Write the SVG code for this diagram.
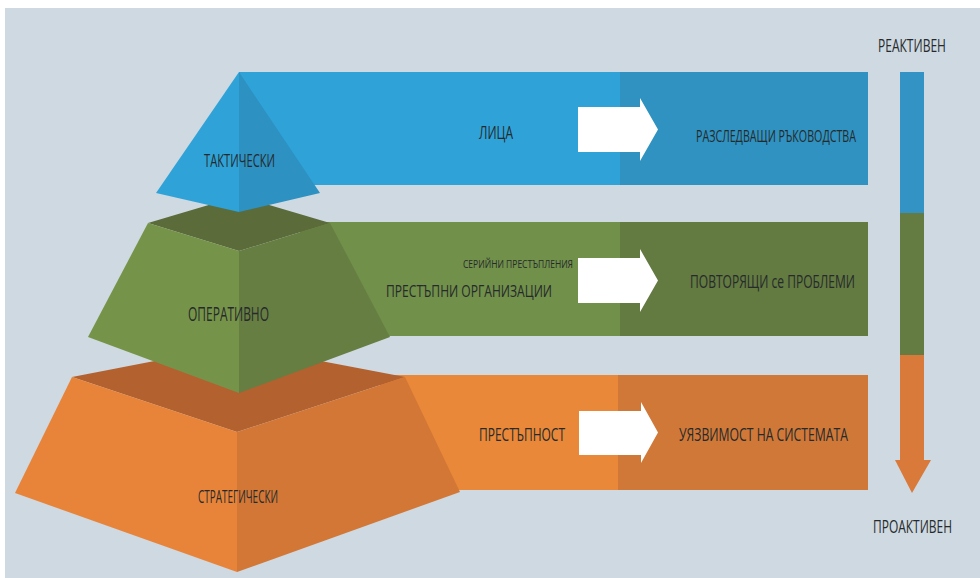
<svg xmlns="http://www.w3.org/2000/svg" width="980" height="578" viewBox="0 0 980 578">
<style>
.t{font-family:"Open Sans","Liberation Sans",sans-serif;fill:#262a2c;}
.arrow{fill:#ffffff;}
</style>
<rect x="0" y="0" width="980" height="578" fill="#ffffff"/>
<rect x="5" y="8" width="975" height="570" fill="#cfd9e1"/>

<g id="band-blue">
<rect x="239" y="72" width="381" height="113" fill="#2fa3d8"/>
<rect x="620" y="72" width="248" height="113" fill="#2f92c0"/>
<polygon class="arrow" points="578,107 640,107 640,98 658,129.5 640,161 640,152 578,152"/>
<text class="t" x="479" y="139" font-size="19" textLength="34" lengthAdjust="spacingAndGlyphs">ЛИЦА</text>
<text class="t" x="696" y="142" font-size="16" textLength="160" lengthAdjust="spacingAndGlyphs">РАЗСЛЕДВАЩИ РЪКОВОДСТВА</text>
</g>

<g id="band-green">
<rect x="300" y="222" width="320" height="114" fill="#71904a"/>
<rect x="620" y="222" width="248" height="114" fill="#637a41"/>
<polygon class="arrow" points="578,258 640,258 640,249 658,280.5 640,312 640,303 578,303"/>
<text class="t" x="463" y="268" font-size="11" textLength="110" lengthAdjust="spacingAndGlyphs">СЕРИЙНИ ПРЕСТЪПЛЕНИЯ</text>
<text class="t" x="386" y="297" font-size="16" textLength="166" lengthAdjust="spacingAndGlyphs">ПРЕСТЪПНИ ОРГАНИЗАЦИИ</text>
<text class="t" x="690" y="288" font-size="18" textLength="165" lengthAdjust="spacingAndGlyphs">ПОВТОРЯЩИ се ПРОБЛЕМИ</text>
</g>

<g id="band-orange">
<rect x="380" y="375" width="238" height="115" fill="#e98838"/>
<rect x="618" y="375" width="250" height="115" fill="#d07838"/>
<polygon class="arrow" points="579,411 641,411 641,402 658,432.5 641,463 641,455 579,455"/>
<text class="t" x="479" y="441" font-size="18" textLength="86" lengthAdjust="spacingAndGlyphs">ПРЕСТЪПНОСТ</text>
<text class="t" x="679" y="441" font-size="18" textLength="169" lengthAdjust="spacingAndGlyphs">УЯЗВИМОСТ НА СИСТЕМАТА</text>
</g>

<g id="level-strategic">
<polygon points="72,377 237,345 405,377 237,432" fill="#b3612f"/>
<polygon points="72,377 237,432 237,572 15,493" fill="#e8843a"/>
<polygon points="237,432 405,377 460,492 237,572" fill="#d37736"/>
<text class="t" x="198" y="503" font-size="18" textLength="80" lengthAdjust="spacingAndGlyphs">СТРАТЕГИЧЕСКИ</text>
</g>

<g id="level-operative">
<polygon points="148,223 239,196 330,223 239,251" fill="#5b6b3a"/>
<polygon points="148,223 239,251 239,393 88,337" fill="#769449"/>
<polygon points="239,251 330,223 390,337 239,393" fill="#667e42"/>
<text class="t" x="188" y="321" font-size="20" textLength="81" lengthAdjust="spacingAndGlyphs">ОПЕРАТИВНО</text>
</g>

<g id="level-tactical">
<polygon points="239,72 239,212 156,193" fill="#2fa3d8"/>
<polygon points="239,72 320,193 239,212" fill="#2d91c2"/>
<text class="t" x="204" y="167" font-size="18" textLength="71" lengthAdjust="spacingAndGlyphs">ТАКТИЧЕСКИ</text>
</g>

<g id="scale">
<rect x="900" y="72" width="24" height="141" fill="#3393c4"/>
<rect x="900" y="213" width="24" height="142" fill="#647b42"/>
<rect x="900" y="355" width="24" height="106" fill="#d9793a"/>
<polygon points="895,460 931,460 912,493" fill="#d9793a"/>
<text class="t" transform="scale(0.7,1)" x="1254.3" y="52" font-size="19" textLength="97.1" lengthAdjust="spacingAndGlyphs">РЕАКТИВЕН</text>
<text class="t" transform="scale(0.7,1)" x="1247.1" y="533" font-size="19" textLength="112.9" lengthAdjust="spacingAndGlyphs">ПРОАКТИВЕН</text>
</g>
</svg>
